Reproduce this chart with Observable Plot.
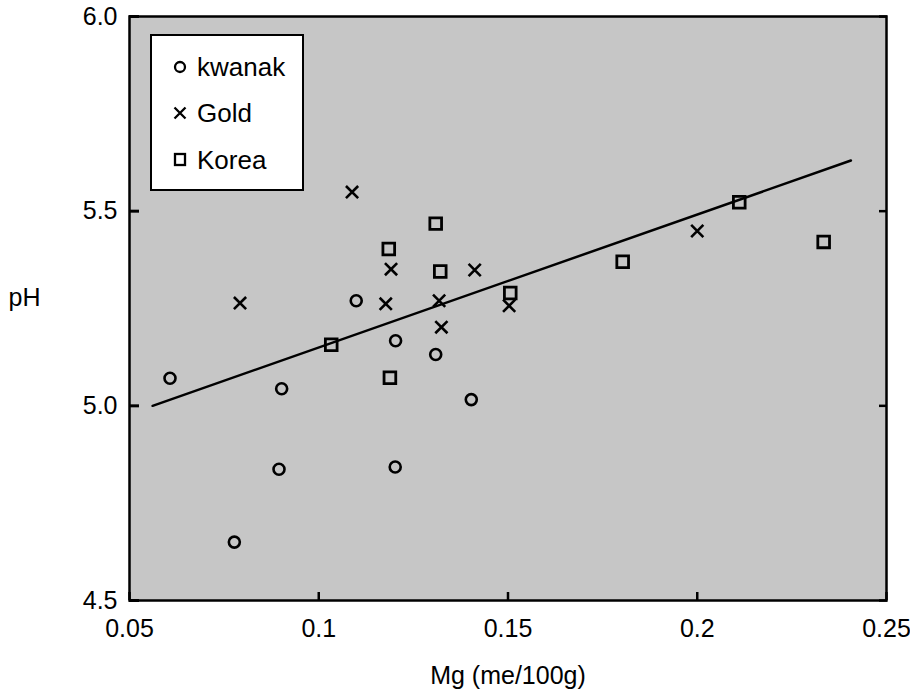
<!DOCTYPE html>
<html><head><meta charset="utf-8">
<script src="https://cdn.jsdelivr.net/npm/d3@7"></script>
<script src="https://cdn.jsdelivr.net/npm/@observablehq/plot@0.6"></script>
<style>
body{margin:0;background:#fff;font-family:"Liberation Sans",Arial,sans-serif;}
#wrap{position:relative;width:910px;height:697px;}
#legend{position:absolute;left:150px;top:34px;width:154px;height:157px;box-sizing:border-box;background:#fff;border:2px solid #000;}
#legend svg{position:absolute;left:-2px;top:-2px;}
</style></head>
<body>
<div id="wrap"><div id="chart"></div><div id="legend"></div></div>
<script>
const kwanakMg = [0.0607,0.0777,0.0895,0.0902,0.1099,0.1202,0.1203,0.1309,0.1403];
const kwanakPH = [5.071,4.650,4.837,5.044,5.270,4.843,5.167,5.132,5.016];
const goldMg = [0.0792,0.1088,0.1177,0.1191,0.1318,0.1324,0.1412,0.1503,0.2000];
const goldPH = [5.264,5.549,5.262,5.351,5.270,5.202,5.349,5.257,5.449];
const koreaMg = [0.1033,0.1185,0.1188,0.1309,0.1321,0.1506,0.1803,0.2111,0.2334];
const koreaPH = [5.157,5.403,5.072,5.468,5.345,5.290,5.370,5.523,5.421];
const fitMg = [0.0561, 0.2406];
const fitPH = [5.000, 5.630];
const xTicks = [0.05,0.1,0.15,0.2,0.25];
const xTickLabels = ["0.05","0.1","0.15","0.2","0.25"];
const yTicks = [4.5,5.0,5.5,6.0];
const yTickLabels = ["4.5","5.0","5.5","6.0"];
const seriesNames = ["kwanak","Gold","Korea"];
const xTitle = "Mg (me/100g)";
const yTitle = "pH";

const pts = (xs, ys) => xs.map((x, i) => ({x, y: ys[i]}));
const kwanak = pts(kwanakMg, kwanakPH);
const gold = pts(goldMg, goldPH);
const korea = pts(koreaMg, koreaPH);
const fit = pts(fitMg, fitPH);

const chart = Plot.plot({
  width: 910, height: 697,
  marginLeft: 129, marginRight: 24, marginTop: 16, marginBottom: 97,
  style: {fontFamily: "'Liberation Sans', Arial, sans-serif", fontSize: "25px", color: "#000", background: "#fff"},
  x: {domain: [0.05, 0.25]},
  y: {domain: [4.5, 6.0]},
  marks: [
    Plot.frame({fill: "#c6c6c6"}),
    Plot.axisY(yTicks, {anchor: "left", tickSize: 10, dx: 10, strokeWidth: 3, tickFormat: () => "", label: null}),
    Plot.axisY(yTicks, {anchor: "right", tickSize: 8, dx: -8, strokeWidth: 2.5, tickFormat: () => "", label: null}),
    Plot.axisY(yTicks, {anchor: "left", tickSize: 0, tickPadding: 12, fontSize: 25, tickFormat: d => yTickLabels[yTicks.indexOf(d)], label: null}),
    Plot.axisX(xTicks, {anchor: "bottom", tickSize: 8, dy: -8, strokeWidth: 2.5, tickFormat: () => "", label: null}),
    Plot.axisX(xTicks, {anchor: "bottom", tickSize: 0, tickPadding: 19, fontSize: 25, tickFormat: d => xTickLabels[xTicks.indexOf(d)], label: null}),
    Plot.line(fit, {x: "x", y: "y", stroke: "#000", strokeWidth: 2.5}),
    Plot.dot(kwanak, {x: "x", y: "y", symbol: "circle", r: 5.5, stroke: "#000", strokeWidth: 2.6, fill: "none"}),
    Plot.dot(gold, {x: "x", y: "y", symbol: "times", r: 5.6, stroke: "#000", strokeWidth: 2.6, fill: "none"}),
    Plot.dot(korea, {x: "x", y: "y", symbol: "square", r: 6.6, stroke: "#000", strokeWidth: 2.8, fill: "none"}),
    Plot.frame({stroke: "#000", strokeWidth: 2.5}),
    Plot.text([yTitle], {text: d => d, frameAnchor: "left", dx: -121, dy: -11, textAnchor: "start", fontSize: 25}),
    Plot.text([xTitle], {text: d => d, frameAnchor: "bottom", dy: 83, fontSize: 25})
  ]
});
document.getElementById("chart").appendChild(chart);

// legend
const lg = d3.select("#legend").append("svg").attr("width", 154).attr("height", 157);
const rows = [33, 79, 126];
seriesNames.forEach((name, i) => {
  const g = lg.append("g").attr("transform", `translate(30,${rows[i]})`)
    .attr("stroke", "#000").attr("stroke-width", 2.3).attr("fill", "none");
  if (i === 0) g.append("circle").attr("r", 5);
  if (i === 1) g.append("path").attr("d", "M-5.5,-5.5L5.5,5.5M-5.5,5.5L5.5,-5.5");
  if (i === 2) g.append("rect").attr("x", -5).attr("y", -6).attr("width", 10).attr("height", 11);
  lg.append("text").attr("x", 47).attr("y", rows[i]).attr("dy", "0.35em")
    .attr("font-size", 26).attr("font-family", "'Liberation Sans', Arial, sans-serif").text(name);
});
</script>
</body></html>
